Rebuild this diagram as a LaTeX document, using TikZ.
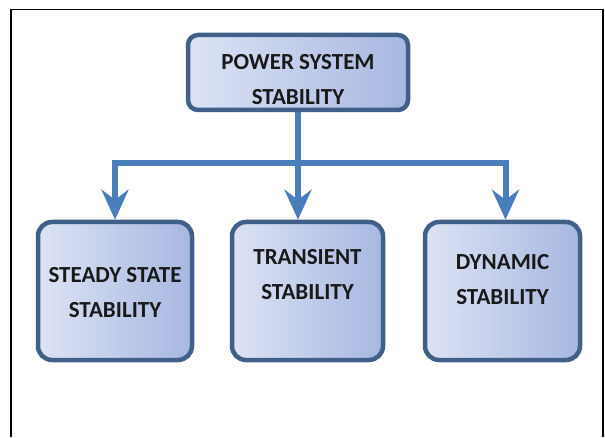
\documentclass[tikz,border=0pt]{standalone}
\usepackage{fontspec}
\setmainfont{Carlito}
\usepackage{tikz}
\usetikzlibrary{arrows.meta, positioning, calc}

\definecolor{boxlight}{HTML}{DCE3F4}
\definecolor{boxdark}{HTML}{A7B7E0}
\definecolor{boxline}{HTML}{40608A}
\definecolor{arrowblue}{HTML}{4A7EBB}

\begin{document}
\begin{tikzpicture}[x=1pt, y=1pt,
            box/.style={rectangle, rounded corners=14pt, draw=boxline, line width=4.5pt, left color=boxlight, right color=boxdark, align=center, text=black!90, font=\fontsize{23}{35}\selectfont\bfseries, inner sep=0pt},
            arrow/.style={-{Stealth[length=30pt, width=27pt, inset=10pt]}, arrowblue, line width=6pt}
        ]
\useasboundingbox (0,0) rectangle (605,437);

% Frame
            \draw[line width=1.5pt] (11,0) -- (11,427.5) -- (603,427.5) -- (603,0);

% Top level
            \node[box, rounded corners=10pt, minimum width=220pt, minimum height=75pt, text height=64pt, text depth=0pt] (pss) at (298,364.5) {POWER SYSTEM\\STABILITY};

% Second level
            \node[box, minimum width=154pt, minimum height=138pt, text height=53pt, text depth=0pt] (steady) at (115,146) {STEADY STATE\\STABILITY};
            \node[box, minimum width=151pt, minimum height=138pt, text height=50pt, text depth=33pt] (transient) at (307.5,146) {TRANSIENT\\STABILITY};
            \node[box, minimum width=155pt, minimum height=138pt, text height=50pt, text depth=23pt] (dynamic) at (502.5,146) {DYNAMIC\\STABILITY};

% Bus line
            \coordinate (bus) at (298,274);

% Arrows
            \draw[arrow] (pss.south) -- (pss.south |- bus) -| (steady.north);
            \draw[arrow] (pss.south) -- (pss.south |- transient.north);
            \draw[arrow] (pss.south) -- (pss.south |- bus) -| ([xshift=3pt]dynamic.north);

        \end{tikzpicture}
\end{document}
